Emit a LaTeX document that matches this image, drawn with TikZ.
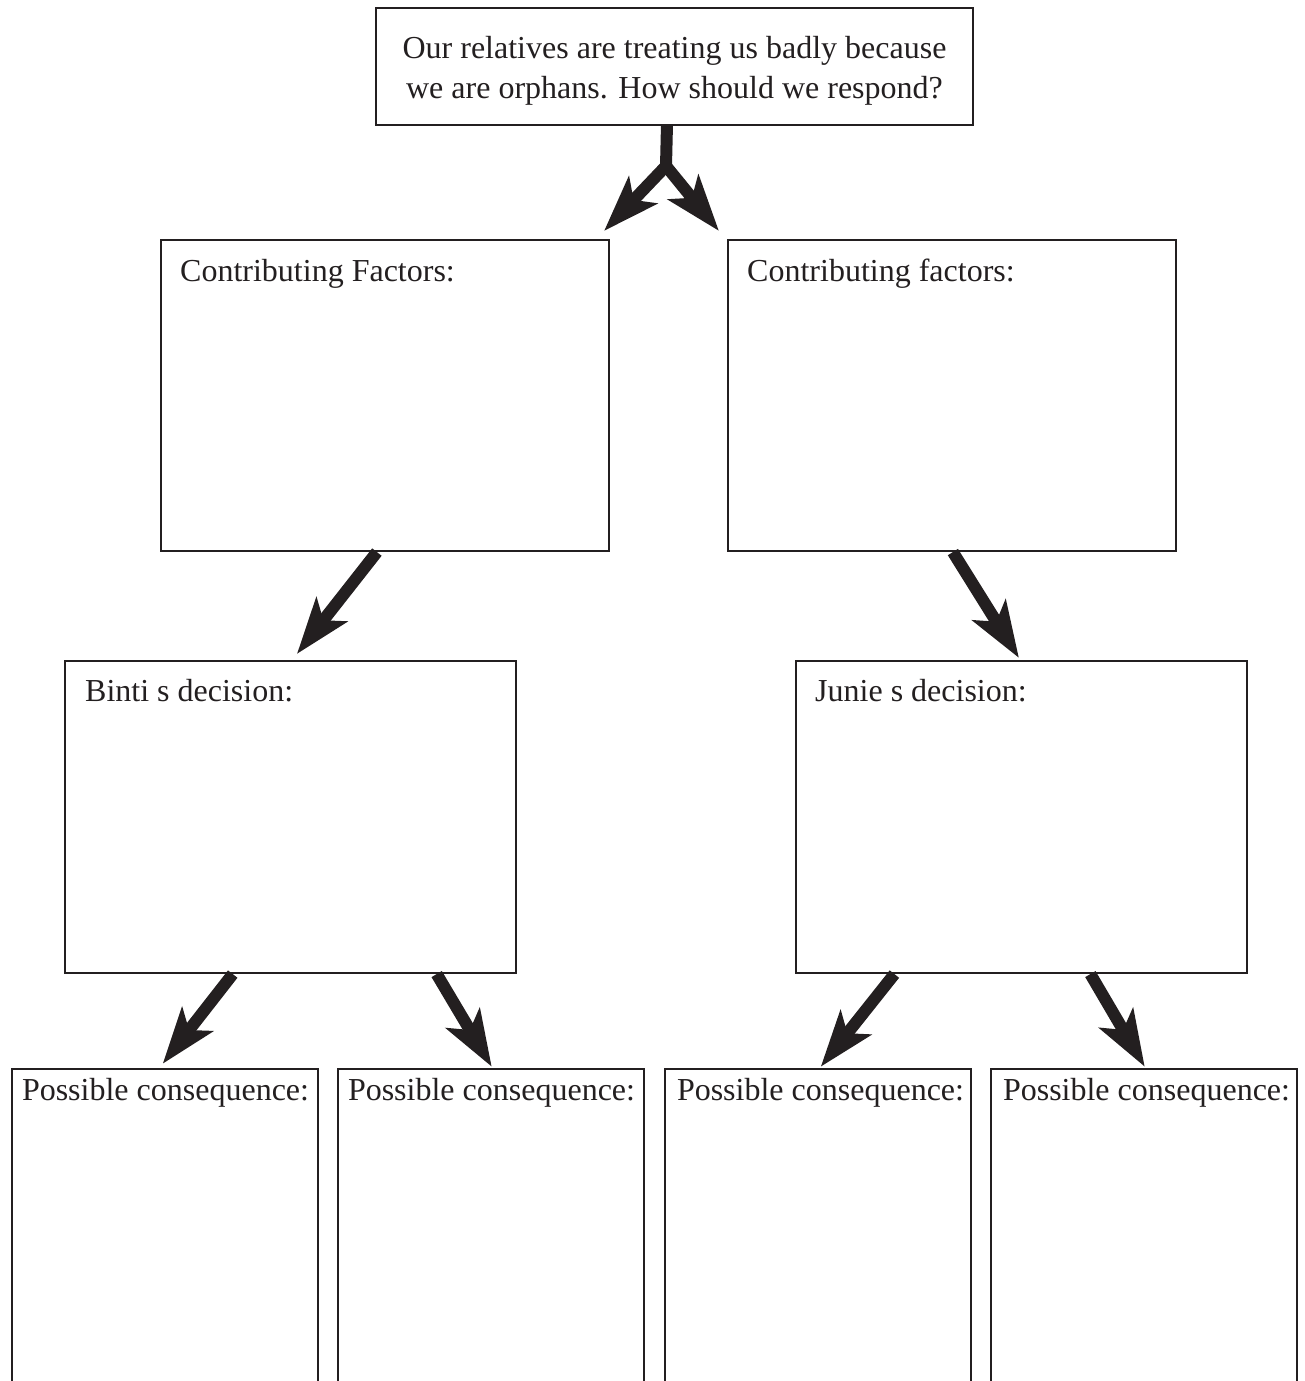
\documentclass[tikz,border=0pt]{standalone}
\usepackage{fontspec}
\setmainfont{Liberation Serif}
\usetikzlibrary{arrows.meta,fit,calc}
\definecolor{ink}{HTML}{231F20}
\begin{document}
\begin{tikzpicture}[x=0.75pt,y=-0.75pt,
  box/.style={draw=ink,line width=1.6pt,inner sep=0pt},
  openbox/.style={draw=none,inner sep=0pt},
  boxline/.style={draw=ink,line width=1.6pt,line join=miter},
  lbl/.style={anchor=base west,inner sep=0pt,font=\fontsize{24}{30}\selectfont,text=ink},
  ttl/.style={anchor=base,inner sep=0pt,font=\fontsize{24}{30}\selectfont,text=ink},
  arr/.style={draw=ink,line width=9pt,line join=miter,-{Stealth[length=42pt,width=29pt,inset=10pt]}}]
\useasboundingbox (0,0) rectangle (1305,1381);
% boxes
\node[box,fit={(376,8) (973,125)}] (top) {};
\node[box,fit={(161,240) (609,551)}] (cfl) {};
\node[box,fit={(728,240) (1176,551)}] (cfr) {};
\node[box,fit={(65,661) (516,973)}] (bin) {};
\node[box,fit={(796,661) (1247,973)}] (jun) {};
\node[openbox,fit={(12,1069) (318,1390)}] (pc1) {};
\node[openbox,fit={(338,1069) (644,1390)}] (pc2) {};
\node[openbox,fit={(665,1069) (971,1390)}] (pc3) {};
\node[openbox,fit={(991,1069) (1297,1390)}] (pc4) {};
\foreach \p in {pc1,pc2,pc3,pc4}
  \draw[boxline] (\p.south west) -- (\p.north west) -- (\p.north east) -- (\p.south east);
% texts
\node[ttl] (t1) at ($(top.north)+(0,52)$) {Our relatives are treating us badly because};
\node[ttl] (t2) at ($(top.north)+(0,92)$) {we are orphans. How should we respond?};
\node[lbl] (lcfl) at ($(cfl.north west)+(20,43)$) {Contributing Factors:};
\node[lbl] (lcfr) at ($(cfr.north west)+(20,43)$) {Contributing factors:};
\node[lbl] (lbin) at ($(bin.north west)+(21,42)$) {Binti s decision:};
\node[lbl] (ljun) at ($(jun.north west)+(20,42)$) {Junie s decision:};
\node[lbl] (lpc1) at ($(pc1.north west)+(10,32)$) {Possible consequence:};
\node[lbl] (lpc2) at ($(pc2.north west)+(10,32)$) {Possible consequence:};
\node[lbl] (lpc3) at ($(pc3.north west)+(12,32)$) {Possible consequence:};
\node[lbl] (lpc4) at ($(pc4.north west)+(12,32)$) {Possible consequence:};
% arrows
\coordinate (fork) at (666,166);
\draw[arr] ($(top.south west)!0.4874!(top.south east)$) -- (fork) -- ($(cfl.north east)+(-6,-8)$);
\draw[arr] (fork) -- ($(cfr.north west)+(-8,-8)$);
\draw[arr] ($(cfl.south west)!0.482!(cfl.south east)$) -- ($(bin.north west)+(233,-6)$);
\draw[arr] ($(cfr.south west)!0.502!(cfr.south east)$) -- ($(jun.north west)+(224,-2)$);
\draw[arr] ($(bin.south west)!0.3725!(bin.south east)$) -- ($(pc1.north west)+(151,-5)$);
\draw[arr] ($(bin.south west)!0.8226!(bin.south east)$) -- ($(pc2.north west)+(154,-2)$);
\draw[arr] ($(jun.south west)!0.2195!(jun.south east)$) -- ($(pc3.north west)+(156,-2)$);
\draw[arr] ($(jun.south west)!0.652!(jun.south east)$) -- ($(pc4.north west)+(154,-2)$);
\end{tikzpicture}
\end{document}
